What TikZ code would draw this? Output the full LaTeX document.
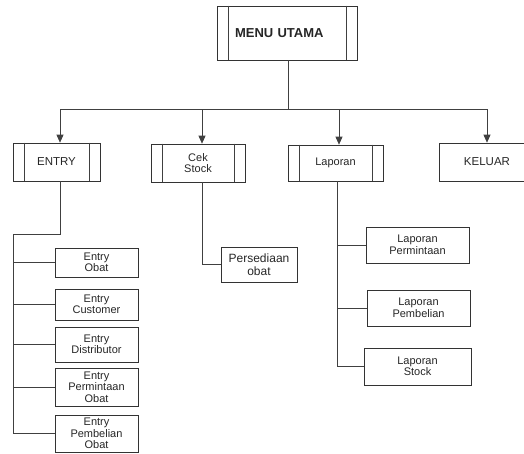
\documentclass[tikz,border=0pt]{standalone}
\usepackage{fontspec}
\setmainfont{Liberation Sans}
\usetikzlibrary{arrows.meta}
\tikzstyle{box} = [rectangle, draw=black!80, line width=0.7pt, align=center, inner sep=0pt, text=black!85, font=\fontsize{11}{11.5}\selectfont]
\tikzstyle{line} = [draw=black!75, line width=0.7pt]
\tikzstyle{arrow} = [line, -{Triangle[length=8pt,width=7pt]}]

\begin{document}
\begin{tikzpicture}[x=1pt, y=-1pt]
\useasboundingbox (0,0) rectangle (524,453);
% nodes
\node (menu) [box, text width=104pt, inner xsep=18pt, minimum height=54pt, align=left, font=\bfseries\fontsize{13}{14}\selectfont] at (287,33) {MENU UTAMA};
\node (entry) [box, minimum width=87pt, minimum height=38pt, font=\fontsize{11.5}{12}\selectfont] at (56.5,162) {ENTRY};
\node (cek) [box, minimum width=94pt, minimum height=38pt] at (198,163) {Cek\\Stock};
\node (lap) [box, minimum width=95pt, minimum height=36pt] at (335.5,163) {Laporan};
\node (keluar) [box, minimum width=96pt, minimum height=38pt, font=\fontsize{11.5}{12}\selectfont] at (487,162) {KELUAR};

\node (eobat) [box, minimum width=83pt, minimum height=29pt] at (96.5,262.5) {Entry\\Obat};
\node (ecust) [box, minimum width=83pt, minimum height=31pt] at (96.5,304.5) {Entry\\Customer};
\node (edist) [box, minimum width=83pt, minimum height=35pt] at (96.5,344.5) {Entry\\Distributor};
\node (eminta) [box, minimum width=83pt, minimum height=38pt] at (96.5,387) {Entry\\Permintaan\\Obat};
\node (ebeli) [box, minimum width=83pt, minimum height=37pt] at (96.5,433.5) {Entry\\Pembelian\\Obat};

\node (persed) [box, minimum width=76pt, minimum height=35pt, font=\fontsize{12}{13}\selectfont] at (259,264.5) {Persediaan\\obat};

\node (lminta) [box, minimum width=103pt, minimum height=36pt] at (417.5,245) {Laporan\\Permintaan};
\node (lbeli) [box, minimum width=103pt, minimum height=36pt] at (418.5,308) {Laporan\\Pembelian};
\node (lstock) [box, minimum width=107pt, minimum height=37pt] at (417.5,366.5) {Laporan\\Stock};

% inner bars
\foreach \n in {menu, entry, cek, lap}
{
  \draw [line] ([xshift=11.5pt]\n.north west) -- ([xshift=11.5pt]\n.south west);
  \draw [line] ([xshift=-11.5pt]\n.north east) -- ([xshift=-11.5pt]\n.south east);
}

% arrows
\coordinate (hub) at (288,109);
\draw [line] (menu.south -| hub) -- (hub);
\draw [arrow] (hub) -| ([xshift=3.5pt]entry.north);
\draw [arrow] (hub) -| ([xshift=4pt]cek.north);
\draw [arrow] (hub) -| ([xshift=3.5pt]lap.north);
\draw [arrow] (hub) -| (keluar);

% entry branch
\coordinate (ej) at (13,234);
\draw [line] ([xshift=3.5pt]entry.south) |- (ej) -- (ej |- ebeli);
\foreach \n in {eobat, ecust, edist, eminta, ebeli}
  \draw [line] (ej |- \n) -- (\n);

% cek stock branch
\draw [line] ([xshift=4pt]cek.south) |- (persed);

% laporan branch
\coordinate (lj) at ([xshift=1.5pt]lap.south);
\draw [line] (lj) |- (lstock);
\draw [line] (lj |- lminta) -- (lminta);
\draw [line] (lj |- lbeli) -- (lbeli);
\end{tikzpicture}
\end{document}
